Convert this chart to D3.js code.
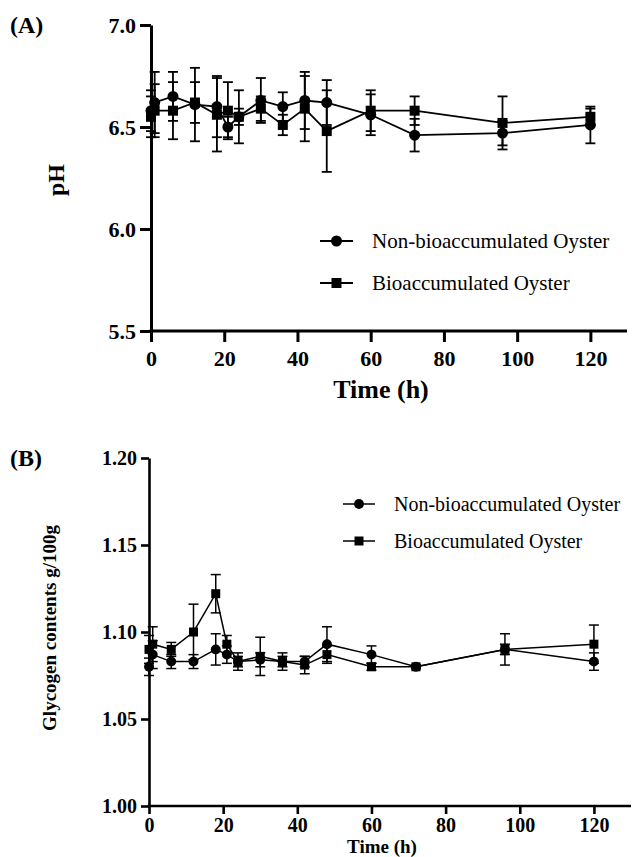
<!DOCTYPE html>
<html>
<head>
<meta charset="utf-8">
<script src="https://cdn.jsdelivr.net/npm/d3@7"></script>
<style>
  body { margin: 0; background: #fff; }
  svg { display: block; }
  text { font-family: "Liberation Serif", "Times New Roman", "DejaVu Serif", serif; fill: #000; }
  .tick text { font-weight: bold; }
</style>
</head>
<body>
<script>
// sampling times (h)
var hours = [0, 1, 6, 12, 18, 21, 24, 30, 36, 42, 48, 60, 72, 96, 120];

// (A) pH
var phNonBio   = [6.58, 6.62, 6.65, 6.61, 6.60, 6.50, 6.55, 6.63, 6.60, 6.63, 6.62, 6.56, 6.46, 6.47, 6.51];
var phNonBioSd = [0.10, 0.15, 0.12, 0.18, 0.15, 0.05, 0.04, 0.11, 0.07, 0.14, 0.11, 0.10, 0.08, 0.06, 0.09];
var phBio      = [6.55, 6.58, 6.58, 6.62, 6.56, 6.58, 6.55, 6.59, 6.51, 6.59, 6.48, 6.58, 6.58, 6.52, 6.55];
var phBioSd    = [0.10, 0.13, 0.14, 0.10, 0.18, 0.14, 0.13, 0.06, 0.05, 0.16, 0.20, 0.10, 0.07, 0.13, 0.04];
var phTicks = [5.5, 6.0, 6.5, 7.0];

// (B) glycogen g/100g
var glyNonBio   = [1.080, 1.087, 1.083, 1.083, 1.090, 1.087, 1.083, 1.084, 1.083, 1.083, 1.093, 1.087, 1.080, 1.090, 1.083];
var glyNonBioSd = [0.005, 0.008, 0.004, 0.004, 0.009, 0.005, 0.003, 0.004, 0.003, 0.003, 0.010, 0.005, 0.001, 0.003, 0.005];
var glyBio      = [1.090, 1.093, 1.090, 1.100, 1.122, 1.093, 1.083, 1.086, 1.083, 1.081, 1.087, 1.080, 1.080, 1.090, 1.093];
var glyBioSd    = [0.008, 0.010, 0.004, 0.016, 0.011, 0.005, 0.005, 0.011, 0.005, 0.005, 0.005, 0.002, 0.001, 0.009, 0.011];
var glyTicks = [1.00, 1.05, 1.10, 1.15, 1.20];

var timeTicks = [0, 20, 40, 60, 80, 100, 120];
var seriesNames = ["Non-bioaccumulated Oyster", "Bioaccumulated Oyster"];

var svg = d3.select("body").append("svg")
    .attr("width", 633)
    .attr("height", 857);

function drawPanel(p) {
    var x = d3.scaleLinear().domain([0, 130]).range([p.left, p.right]);
    var y = d3.scaleLinear().domain(p.yDomain).range([p.bottom, p.top]);
    var g = svg.append("g");

    // axes
    var xAxis = g.append("g")
        .attr("transform", "translate(0," + p.bottom + ")")
        .call(d3.axisBottom(x).tickValues(timeTicks).tickSize(p.tickLen).tickPadding(p.xPad).tickSizeOuter(0));
    var yAxis = g.append("g")
        .attr("transform", "translate(" + p.left + ",0)")
        .call(d3.axisLeft(y).tickValues(p.yTicks).tickFormat(d3.format(p.fmt))
              .tickSize(p.tickLen).tickPadding(p.yPad).tickSizeOuter(0));
    [xAxis, yAxis].forEach(function(a) {
        a.attr("font-family", null);
        a.select(".domain").attr("stroke-width", p.axisW).attr("stroke", "#000");
        a.selectAll(".tick line").attr("stroke-width", p.axisW).attr("stroke", "#000");
        a.selectAll(".tick text").style("font-size", p.tickFont + "px").attr("fill", "#000");
    });
    // let the x axis meet the y axis cleanly
    xAxis.select(".domain").attr("d", "M" + (p.left - p.axisW / 2) + ",0H" + p.right);

    var series = [
        {vals: p.a, sd: p.aSd, shape: "circle"},
        {vals: p.b, sd: p.bSd, shape: "square"}
    ];

    var line = d3.line()
        .x(function(d) { return x(d[0]); })
        .y(function(d) { return y(d[1]); });

    series.forEach(function(s) {
        var pts = hours.map(function(h, i) { return [h, s.vals[i], s.sd[i]]; });
        var eb = g.append("g").attr("stroke", "#000").attr("stroke-width", p.lineW);
        pts.forEach(function(d) {
            var cx = x(d[0]), hi = y(d[1] + d[2]), lo = y(d[1] - d[2]);
            eb.append("line").attr("x1", cx).attr("x2", cx).attr("y1", hi).attr("y2", lo);
            eb.append("line").attr("x1", cx - p.cap).attr("x2", cx + p.cap).attr("y1", hi).attr("y2", hi);
            eb.append("line").attr("x1", cx - p.cap).attr("x2", cx + p.cap).attr("y1", lo).attr("y2", lo);
        });
        g.append("path").datum(pts)
            .attr("d", line)
            .attr("fill", "none")
            .attr("stroke", "#000")
            .attr("stroke-width", p.lineW);
        drawMarkers(g, pts, s.shape, x, y, p.mark);
    });

    // legend
    seriesNames.forEach(function(name, i) {
        var ly = p.legY[i];
        g.append("line")
            .attr("x1", p.legX).attr("x2", p.legX + p.legLen)
            .attr("y1", ly).attr("y2", ly)
            .attr("stroke", "#000").attr("stroke-width", p.lineW);
        var cx = p.legX + p.legLen / 2;
        if (i === 0) {
            g.append("circle").attr("cx", cx).attr("cy", ly).attr("r", p.mark * 0.55);
        } else {
            g.append("rect").attr("x", cx - p.mark * 0.5).attr("y", ly - p.mark * 0.5)
                .attr("width", p.mark).attr("height", p.mark);
        }
        g.append("text")
            .attr("x", p.legTextX).attr("y", ly)
            .attr("dy", "0.35em")
            .style("font-family", "'Liberation Serif', 'Times New Roman', serif")
            .style("font-size", p.legFont + "px")
            .text(name);
    });

    // titles
    g.append("text")
        .attr("x", (p.left + p.right) / 2 - 8).attr("y", p.xTitleY)
        .attr("text-anchor", "middle")
        .style("font-size", p.xTitleFont + "px").style("font-weight", "bold")
        .text("Time (h)");
    g.append("text")
        .attr("transform", "translate(" + p.yTitleX + "," + p.yTitleMid + ") rotate(-90)")
        .attr("text-anchor", "middle")
        .style("font-size", p.yTitleFont + "px").style("font-weight", "bold")
        .text(p.yTitle);
    g.append("text")
        .attr("x", 10).attr("y", p.top).attr("dy", "0.35em")
        .style("font-size", "24px").style("font-weight", "bold")
        .text(p.label);
}

function drawMarkers(g, pts, shape, x, y, size) {
    if (shape === "circle") {
        g.selectAll(null).data(pts).enter().append("circle")
            .attr("cx", function(d) { return x(d[0]); })
            .attr("cy", function(d) { return y(d[1]); })
            .attr("r", size * 0.55);
    } else {
        g.selectAll(null).data(pts).enter().append("rect")
            .attr("x", function(d) { return x(d[0]) - size / 2; })
            .attr("y", function(d) { return y(d[1]) - size / 2; })
            .attr("width", size).attr("height", size);
    }
}

drawPanel({
    label: "(A)", yTitle: "pH",
    left: 151, right: 627, top: 25, bottom: 331,
    yDomain: [5.5, 7.0], yTicks: phTicks, fmt: ".1f",
    a: phNonBio, aSd: phNonBioSd, b: phBio, bSd: phBioSd,
    tickLen: 11, xPad: 8, yPad: 4, axisW: 3, tickFont: 22,
    lineW: 1.8, cap: 5, mark: 10,
    legX: 320, legLen: 33, legTextX: 372, legY: [241, 283], legFont: 21,
    xTitleY: 398, xTitleFont: 26, yTitleX: 64, yTitleMid: 180, yTitleFont: 24
});

drawPanel({
    label: "(B)", yTitle: "Glycogen contents g/100g",
    left: 149, right: 631, top: 458, bottom: 806,
    yDomain: [1.0, 1.2], yTicks: glyTicks, fmt: ".2f",
    a: glyNonBio, aSd: glyNonBioSd, b: glyBio, bSd: glyBioSd,
    tickLen: 8, xPad: 4, yPad: 4, axisW: 2.6, tickFont: 20,
    lineW: 1.5, cap: 5, mark: 9,
    legX: 343, legLen: 32, legTextX: 394, legY: [504, 541], legFont: 20,
    xTitleY: 853, xTitleFont: 19, yTitleX: 56, yTitleMid: 628, yTitleFont: 19
});
</script>
</body>
</html>
